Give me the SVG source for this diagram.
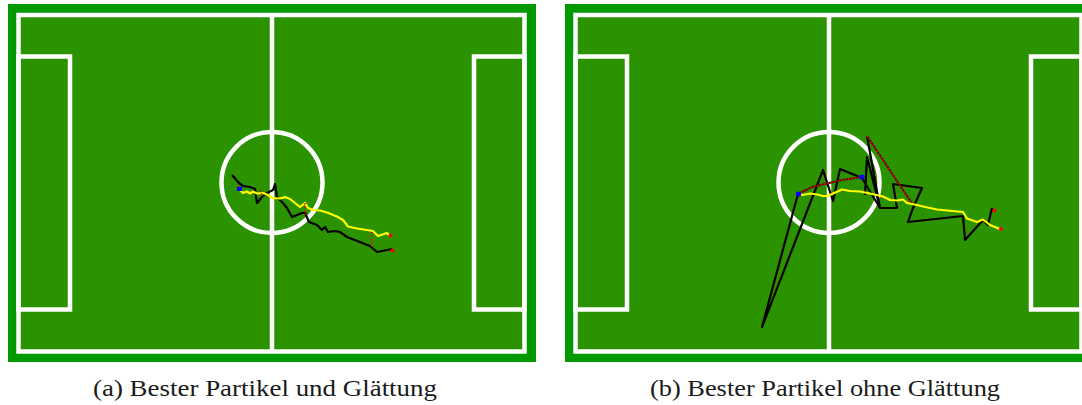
<svg xmlns="http://www.w3.org/2000/svg" width="1082" height="405" viewBox="0 0 1082 405">
<defs>
<style>
.border{fill:#009900}
.pitch{fill:#2b9300;stroke:#ffffff;stroke-width:4.5}
.ln{fill:none;stroke:#ffffff;stroke-width:4.5}
.blk{fill:none;stroke:#000000;stroke-width:2.2;stroke-linejoin:round}
.yel{fill:none;stroke:#ffff00;stroke-width:2.2;stroke-linejoin:round}
.red{fill:none;stroke:#ff0000;stroke-width:1.6;stroke-dasharray:1.5 2}
.bk2{fill:none;stroke:#3a1a00;stroke-width:2}
.cap{font-family:"Liberation Serif","DejaVu Serif",serif;font-size:23px;fill:#1a1a1a}
</style>
<g id="field">
<rect class="border" x="8" y="4" width="528" height="358"/>
<rect class="pitch" x="18.5" y="15" width="506" height="336.5"/>
<line class="ln" x1="272" y1="15" x2="272" y2="351.5"/>
<circle class="ln" cx="272" cy="182.5" r="50.5"/>
<rect class="ln" x="18.5" y="56.5" width="51.5" height="253"/>
<rect class="ln" x="474" y="56.5" width="50.5" height="253"/>
</g>
</defs>
<g id="fieldA">
<use href="#field"/>
</g>
<g id="fieldB">
<use href="#field" x="557"/>
</g>
<g id="connectors">
<!-- left: smoothed -->
<path class="blk" d="M232,175 L239,183 L243,186 L250,187 L255,189 L257,203 L262,197 L267,193 L273,190 L275,184 L277,197 L282,202 L287,208 L292,217 L302,213 L305,213 L309,222 L317,225 L322,230 L325,227 L328,232 L335,231 L340,232 L347,237 L370,246 L377,252 L392,249"/>
<path class="yel" d="M240,190 L243,193 L247,191.5 L250,193.5 L253,191.5 L257,193.5 L263,193 L268,195 L272,198 L280,198.5 L285,197 L290,199 L295,203 L300,207 L305,203 L308,208 L313,210 L320,210.5 L327,212.5 L337,216.5 L343,220 L348,226.5 L357,228.5 L373,231 L378,236 L387,233 L390,236"/>
<path class="red" d="M260,190 L263,197 M305,203 L305,215 M372,232 L372,247 M238,186 L242,189"/>
<rect x="237" y="187" width="5" height="4" fill="#0000ff"/>
<circle cx="390.5" cy="235.5" r="2" fill="#ff0000"/>
<circle cx="392.5" cy="250.5" r="2" fill="#ff0000"/>
<!-- right: raw -->
<path class="blk" d="M798,194 L762,327 L823,170 L833,201 L840,169 L862,178 L880,208 L897,208 L893,184 L922,188 L913,208 L908,222 L963,216 L965,240 L983,220 L988,225 L992,208"/>
<path class="blk" d="M865,195 L867,157 L880,208 L867,136"/>
<path class="bk2" d="M867,136 L913,205"/>
<path class="red" d="M867,136 L913,205"/>
<path class="bk2" d="M798,194 L812,187 L842,180 L862,177"/>
<path class="red" d="M798,194 L812,187 L842,180 L862,177"/>
<path class="yel" d="M798,194 L803,195 L810,193.5 L817,194.5 L823,196 L828,196 L833,193.5 L842,189.5 L850,191 L860,191.5 L870,193.5 L883,196.5 L890,200 L897,200.5 L903,199.5 L907,203 L917,205 L923,206.5 L937,209.5 L963,212 L967,218.5 L977,222 L983,219.5 L990,225 L1001,229.5"/>
<circle cx="798.5" cy="194" r="2.6" fill="#0000ff"/>
<circle cx="862" cy="177" r="2.6" fill="#0000ff"/>
<circle cx="994.5" cy="210.5" r="2" fill="#ff0000"/>
<circle cx="1001" cy="229" r="2" fill="#ff0000"/>
</g>
<g id="captions">
<text class="cap" x="93" y="396" textLength="344" lengthAdjust="spacingAndGlyphs">(a) Bester Partikel und Glättung</text>
<text class="cap" x="650" y="396" textLength="350" lengthAdjust="spacingAndGlyphs">(b) Bester Partikel ohne Glättung</text>
</g>
</svg>
